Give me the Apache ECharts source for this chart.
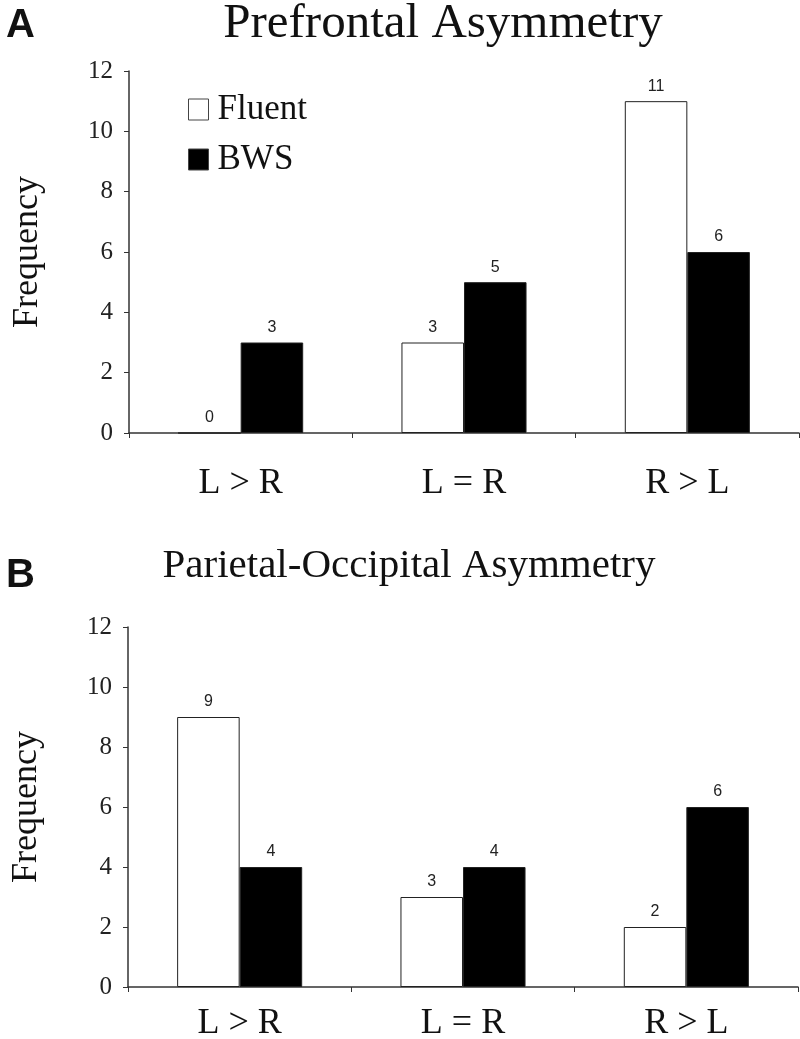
<!DOCTYPE html>
<html><head><meta charset="utf-8">
<script src="https://cdn.jsdelivr.net/npm/echarts@6/dist/echarts.min.js"></script>
<style>html,body{margin:0;padding:0;background:#fff}#c{width:800px;height:1039px}</style>
</head><body><div id="c"></div>
<script>
const categories = ['L > R', 'L = R', 'R > L'];
const prefrontalFluent = [0, 3, 11];
const prefrontalBWS = [3, 5, 6];
const parietalFluent = [9, 3, 2];
const parietalBWS = [4, 4, 6];
const yTicks = [0, 2, 4, 6, 8, 10, 12];
const seriesNames = ['Fluent', 'BWS'];

const serif = '"Liberation Serif", "Times New Roman", serif';
const sans = '"Liberation Sans", Arial, sans-serif';
const chart = echarts.init(document.getElementById('c'));

function yAxis(gi) {
  return {
    type: 'value', gridIndex: gi, min: yTicks[0], max: yTicks[yTicks.length - 1], interval: 2,
    name: 'Frequency', nameLocation: 'middle', nameRotate: 90, nameGap: 83,
    nameTextStyle: { fontFamily: serif, fontSize: 36, color: '#111' },
    axisLine: { show: true, lineStyle: { color: '#333', width: 1.5 } },
    axisTick: { show: true, length: 5, lineStyle: { color: '#333' } },
    splitLine: { show: false },
    axisLabel: { fontFamily: serif, fontSize: 25, color: '#222', margin: 16 }
  };
}
function xAxis(gi, margin) {
  return {
    type: 'category', gridIndex: gi, data: categories,
    axisLine: { show: true, lineStyle: { color: '#333', width: 1.5 } },
    axisTick: { show: true, length: 5, lineStyle: { color: '#333' } },
    axisLabel: { fontFamily: serif, fontSize: 36, color: '#111', margin }
  };
}
function bar(name, data, gi, color) {
  return {
    name, type: 'bar', data, xAxisIndex: gi, yAxisIndex: gi,
    barGap: '0%', barCategoryGap: '44%',
    itemStyle: { color, borderColor: '#222', borderWidth: 1 },
    label: { show: true, position: 'top', distance: 7, fontFamily: sans, fontSize: 16, color: '#222' },
    animation: false
  };
}

chart.setOption({
  animation: false,
  title: [
    { text: 'A', left: 1, top: 1, textStyle: { fontFamily: sans, fontSize: 40, fontWeight: 'bold', color: '#111' } },
    { text: 'Prefrontal Asymmetry', left: 438, textAlign: 'center', top: -5, textStyle: { fontFamily: serif, fontSize: 49, fontWeight: 'normal', color: '#111' } },
    { text: 'B', left: 1, top: 551, textStyle: { fontFamily: sans, fontSize: 40, fontWeight: 'bold', color: '#111' } },
    { text: 'Parietal-Occipital Asymmetry', left: 404, textAlign: 'center', top: 541, textStyle: { fontFamily: serif, fontSize: 41, fontWeight: 'normal', color: '#111' } }
  ],
  legend: {
    data: seriesNames, orient: 'vertical', left: 183, top: 87, itemWidth: 20, itemHeight: 21, itemGap: 15,
    icon: 'rect', textStyle: { fontFamily: serif, fontSize: 35, color: '#111', padding: [0, 0, 0, 4] },
    itemStyle: { borderColor: '#444', borderWidth: 1 }
  },
  grid: [
    { left: 129, right: 1, top: 71, height: 362, outerBoundsMode: 'none', containLabel: false },
    { left: 128, right: 2, top: 627, height: 360, outerBoundsMode: 'none', containLabel: false }
  ],
  xAxis: [xAxis(0, 33), xAxis(1, 19)],
  yAxis: [yAxis(0), yAxis(1)],
  series: [
    bar('Fluent', prefrontalFluent, 0, '#fff'),
    bar('BWS', prefrontalBWS, 0, '#000'),
    bar('Fluent', parietalFluent, 1, '#fff'),
    bar('BWS', parietalBWS, 1, '#000')
  ]
});
</script></body></html>
